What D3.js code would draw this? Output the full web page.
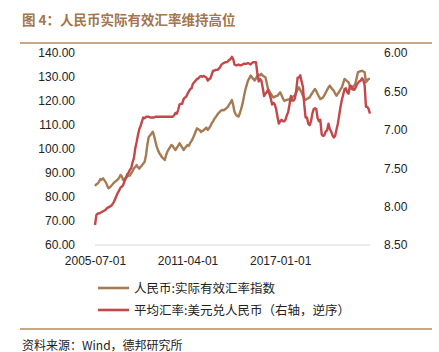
<!DOCTYPE html>
<html>
<head>
<meta charset="utf-8">
<script src="https://d3js.org/d3.v7.min.js"></script>
<style>
  body { margin: 0; background: #fff; }
  svg text { font-family: "Liberation Sans", Arial, sans-serif; }
  .cjk { font-family: "Noto Sans CJK SC", sans-serif; }
</style>
</head>
<body>
<div id="chart"></div>
<script>
// monthly, 2005-07 .. 2022-08
const startMonth = new Date(2005, 6, 1)

const reerIndex = [
  84.6, 85.3, 85.6, 86.4, 87.5, 87.2,
  87.8, 86.9, 86.2, 84.9, 83.6, 84.0, 84.6, 85.2, 85.9, 86.4, 86.8, 87.3,
  88.0, 89.2, 88.6, 87.0, 87.5, 88.1, 88.4, 89.0, 88.9, 89.9, 90.8, 91.9,
  92.5, 93.3, 92.4, 91.8, 92.6, 93.2, 94.0, 94.7, 97.5, 101.8, 105.0, 105.6,
  106.4, 107.2, 105.6, 103.2, 101.0, 99.5, 98.2, 97.4, 96.5, 96.0, 95.4, 97.5,
  99.0, 100.0, 100.8, 101.7, 101.2, 100.3, 99.6, 100.5, 101.4, 102.4, 101.5, 100.6,
  99.6, 100.4, 101.0, 101.7, 101.3, 102.6, 103.4, 104.5, 105.8, 107.3, 108.6, 108.2,
  107.9, 107.1, 107.6, 107.8, 108.4, 108.9, 107.9, 108.6, 109.5, 110.7, 111.5, 112.6,
  113.3, 114.2, 114.9, 115.5, 116.0, 116.3, 116.1, 116.6, 117.0, 117.6, 118.5, 119.4,
  120.4, 118.2, 115.5, 114.4, 113.8, 113.5, 114.9, 116.8, 119.0, 121.8, 124.6, 126.5,
  128.5, 129.4, 130.6, 129.9, 129.2, 128.5, 129.4, 130.5, 130.9, 130.6, 131.3, 130.6,
  130.2, 129.9, 127.6, 125.0, 124.0, 123.0, 122.2, 121.5, 121.8, 122.0, 122.2, 122.9,
  123.6, 122.4, 121.2, 120.1, 120.3, 120.5, 120.6, 120.8, 121.2, 121.6, 122.0, 122.2,
  123.6, 124.8, 125.7, 124.6, 123.6, 122.2, 120.8, 120.5, 120.9, 121.2, 121.5, 122.5,
  123.4, 124.3, 125.0, 124.1, 122.9, 121.8, 120.8, 121.1, 121.5, 122.4, 123.5, 124.6,
  125.6, 126.4, 125.6, 124.8, 124.3, 123.1, 122.2, 123.0, 123.9, 124.8, 125.7, 127.4,
  129.2, 128.7, 128.3, 127.8, 126.4, 125.0, 125.7, 126.4, 127.1, 129.5, 132.0, 132.2,
  132.4, 132.6, 132.3, 132.0, 127.8, 128.6, 129.2, 129.2
]

const usdCny = [
  8.24, 8.11, 8.09, 8.09, 8.08, 8.07,
  8.06, 8.05, 8.04, 8.02, 8.01, 8.00, 7.99, 7.97, 7.94, 7.90, 7.86, 7.82,
  7.79, 7.75, 7.74, 7.72, 7.67, 7.63, 7.58, 7.56, 7.52, 7.50, 7.42, 7.37,
  7.24, 7.16, 7.07, 6.99, 6.95, 6.89, 6.84, 6.85, 6.83, 6.83, 6.83, 6.84,
  6.84, 6.84, 6.84, 6.83, 6.83, 6.83, 6.83, 6.83, 6.83, 6.83, 6.83, 6.83,
  6.83, 6.83, 6.83, 6.83, 6.83, 6.81, 6.78, 6.79, 6.74, 6.67, 6.66, 6.66,
  6.60, 6.58, 6.57, 6.53, 6.50, 6.47, 6.46, 6.40, 6.38, 6.36, 6.34, 6.33,
  6.31, 6.30, 6.31, 6.30, 6.31, 6.32, 6.36, 6.34, 6.33, 6.28, 6.23, 6.23,
  6.22, 6.22, 6.21, 6.19, 6.16, 6.14, 6.13, 6.12, 6.12, 6.11, 6.09, 6.08,
  6.05, 6.08, 6.15, 6.16, 6.16, 6.15, 6.16, 6.16, 6.15, 6.14, 6.14, 6.14,
  6.13, 6.14, 6.15, 6.13, 6.12, 6.12, 6.12, 6.26, 6.37, 6.34, 6.36, 6.45,
  6.56, 6.53, 6.51, 6.48, 6.53, 6.59, 6.67, 6.65, 6.67, 6.73, 6.83, 6.92,
  6.89, 6.87, 6.89, 6.89, 6.87, 6.81, 6.77, 6.67, 6.56, 6.62, 6.62, 6.59,
  6.48, 6.32, 6.32, 6.29, 6.37, 6.44, 6.67, 6.84, 6.84, 6.92, 6.94, 6.89,
  6.79, 6.73, 6.72, 6.73, 6.85, 6.89, 6.87, 7.06, 7.08, 7.07, 7.02, 7.01,
  6.92, 6.99, 7.02, 7.07, 7.10, 7.08, 7.00, 6.92, 6.81, 6.70, 6.61, 6.54,
  6.47, 6.46, 6.51, 6.53, 6.43, 6.43, 6.47, 6.48, 6.46, 6.42, 6.39, 6.37,
  6.36, 6.33, 6.35, 6.42, 6.70, 6.70, 6.73, 6.79
]

const leftTicks = [60, 70, 80, 90, 100, 110, 120, 130, 140]
const rightTicks = [6.0, 6.5, 7.0, 7.5, 8.0, 8.5]
const xTickLabels = ["2005-07-01", "2011-04-01", "2017-01-01"]
const seriesNames = ["人民币:实际有效汇率指数", "平均汇率:美元兑人民币（右轴，逆序）"]
const titleText = "图 4：人民币实际有效汇率维持高位"
const sourceText = "资料来源：Wind，德邦研究所"

const width = 439, height = 352
const margin = { top: 53, right: 69, bottom: 107, left: 95 }
const brown = "#a57b53", red = "#c4474a", rule = "#b98a5f"

const svg = d3.select("#chart").append("svg")
    .attr("width", width)
    .attr("height", height)

const dates = reerIndex.map((d, i) => d3.timeMonth.offset(startMonth, i))
const parseDay = d3.timeParse("%Y-%m-%d")

const x = d3.scaleTime()
    .domain(d3.extent(dates))
    .range([margin.left, width - margin.right])
const yLeft = d3.scaleLinear()
    .domain([60, 140])
    .range([height - margin.bottom, margin.top])
const yRight = d3.scaleLinear()
    .domain([8.5, 6.0])   // reversed axis
    .range([height - margin.bottom, margin.top])

// title + rules
svg.append("text")
    .attr("class", "cjk")
    .attr("x", 22).attr("y", 25)
    .attr("fill", "#a3764d")
    .attr("font-size", 13.5)
    .attr("font-weight", "bold")
    .text(titleText)

svg.append("line")
    .attr("x1", 20).attr("x2", 432).attr("y1", 43).attr("y2", 43)
    .attr("stroke", rule).attr("stroke-width", 1.5)
svg.append("line")
    .attr("x1", 20).attr("x2", 432).attr("y1", 329).attr("y2", 329)
    .attr("stroke", rule).attr("stroke-width", 1.5)

// baseline
svg.append("line")
    .attr("x1", margin.left).attr("x2", width - margin.right)
    .attr("y1", yLeft(60)).attr("y2", yLeft(60))
    .attr("stroke", "#d9d9d9").attr("stroke-width", 1)

// left axis
const leftAxis = svg.append("g")
    .attr("transform", `translate(${margin.left - 17},0)`)
    .call(d3.axisLeft(yLeft).tickValues(leftTicks).tickSize(0).tickFormat(d3.format(".2f")))
leftAxis.select(".domain").remove()
leftAxis.selectAll("text").attr("font-size", 12).attr("fill", "#222")
    .attr("font-family", "Liberation Sans, Arial, sans-serif")

// right axis
const rightAxis = svg.append("g")
    .attr("transform", `translate(${width - margin.right + 11},0)`)
    .call(d3.axisRight(yRight).tickValues(rightTicks).tickSize(0).tickFormat(d3.format(".2f")))
rightAxis.select(".domain").remove()
rightAxis.selectAll("text").attr("font-size", 12).attr("fill", "#222")
    .attr("font-family", "Liberation Sans, Arial, sans-serif")

// x axis
const xAxis = svg.append("g")
    .attr("transform", `translate(0,${yLeft(60) + 8})`)
    .call(d3.axisBottom(x).tickValues(xTickLabels.map(parseDay)).tickSize(0).tickFormat(d3.timeFormat("%Y-%m-%d")))
xAxis.select(".domain").remove()
xAxis.selectAll("text").attr("font-size", 12).attr("fill", "#222")
    .attr("font-family", "Liberation Sans, Arial, sans-serif")

// lines
const reerLine = d3.line()
    .x((d, i) => x(dates[i]))
    .y(d => yLeft(d))
const fxLine = d3.line()
    .x((d, i) => x(dates[i]))
    .y(d => yRight(d))

svg.append("path")
    .datum(reerIndex)
    .attr("fill", "none")
    .attr("stroke", brown)
    .attr("stroke-width", 2.4)
    .attr("stroke-linejoin", "round")
    .attr("d", reerLine)

svg.append("path")
    .datum(usdCny)
    .attr("fill", "none")
    .attr("stroke", red)
    .attr("stroke-width", 2.4)
    .attr("stroke-linejoin", "round")
    .attr("d", fxLine)

// legend
const legend = svg.append("g")
const legendColors = [brown, red]
seriesNames.forEach((name, i) => {
    const ly = 288 + i * 22
    legend.append("line")
        .attr("x1", 98).attr("x2", 129).attr("y1", ly).attr("y2", ly)
        .attr("stroke", legendColors[i]).attr("stroke-width", 2.6)
    legend.append("text")
        .attr("class", "cjk")
        .attr("x", 134).attr("y", ly + 4.5)
        .attr("font-size", 12.5)
        .attr("fill", "#222")
        .text(name)
})

// source
svg.append("text")
    .attr("class", "cjk")
    .attr("x", 22).attr("y", 350)
    .attr("font-size", 12)
    .attr("fill", "#222")
    .text(sourceText)
</script>
</body>
</html>
